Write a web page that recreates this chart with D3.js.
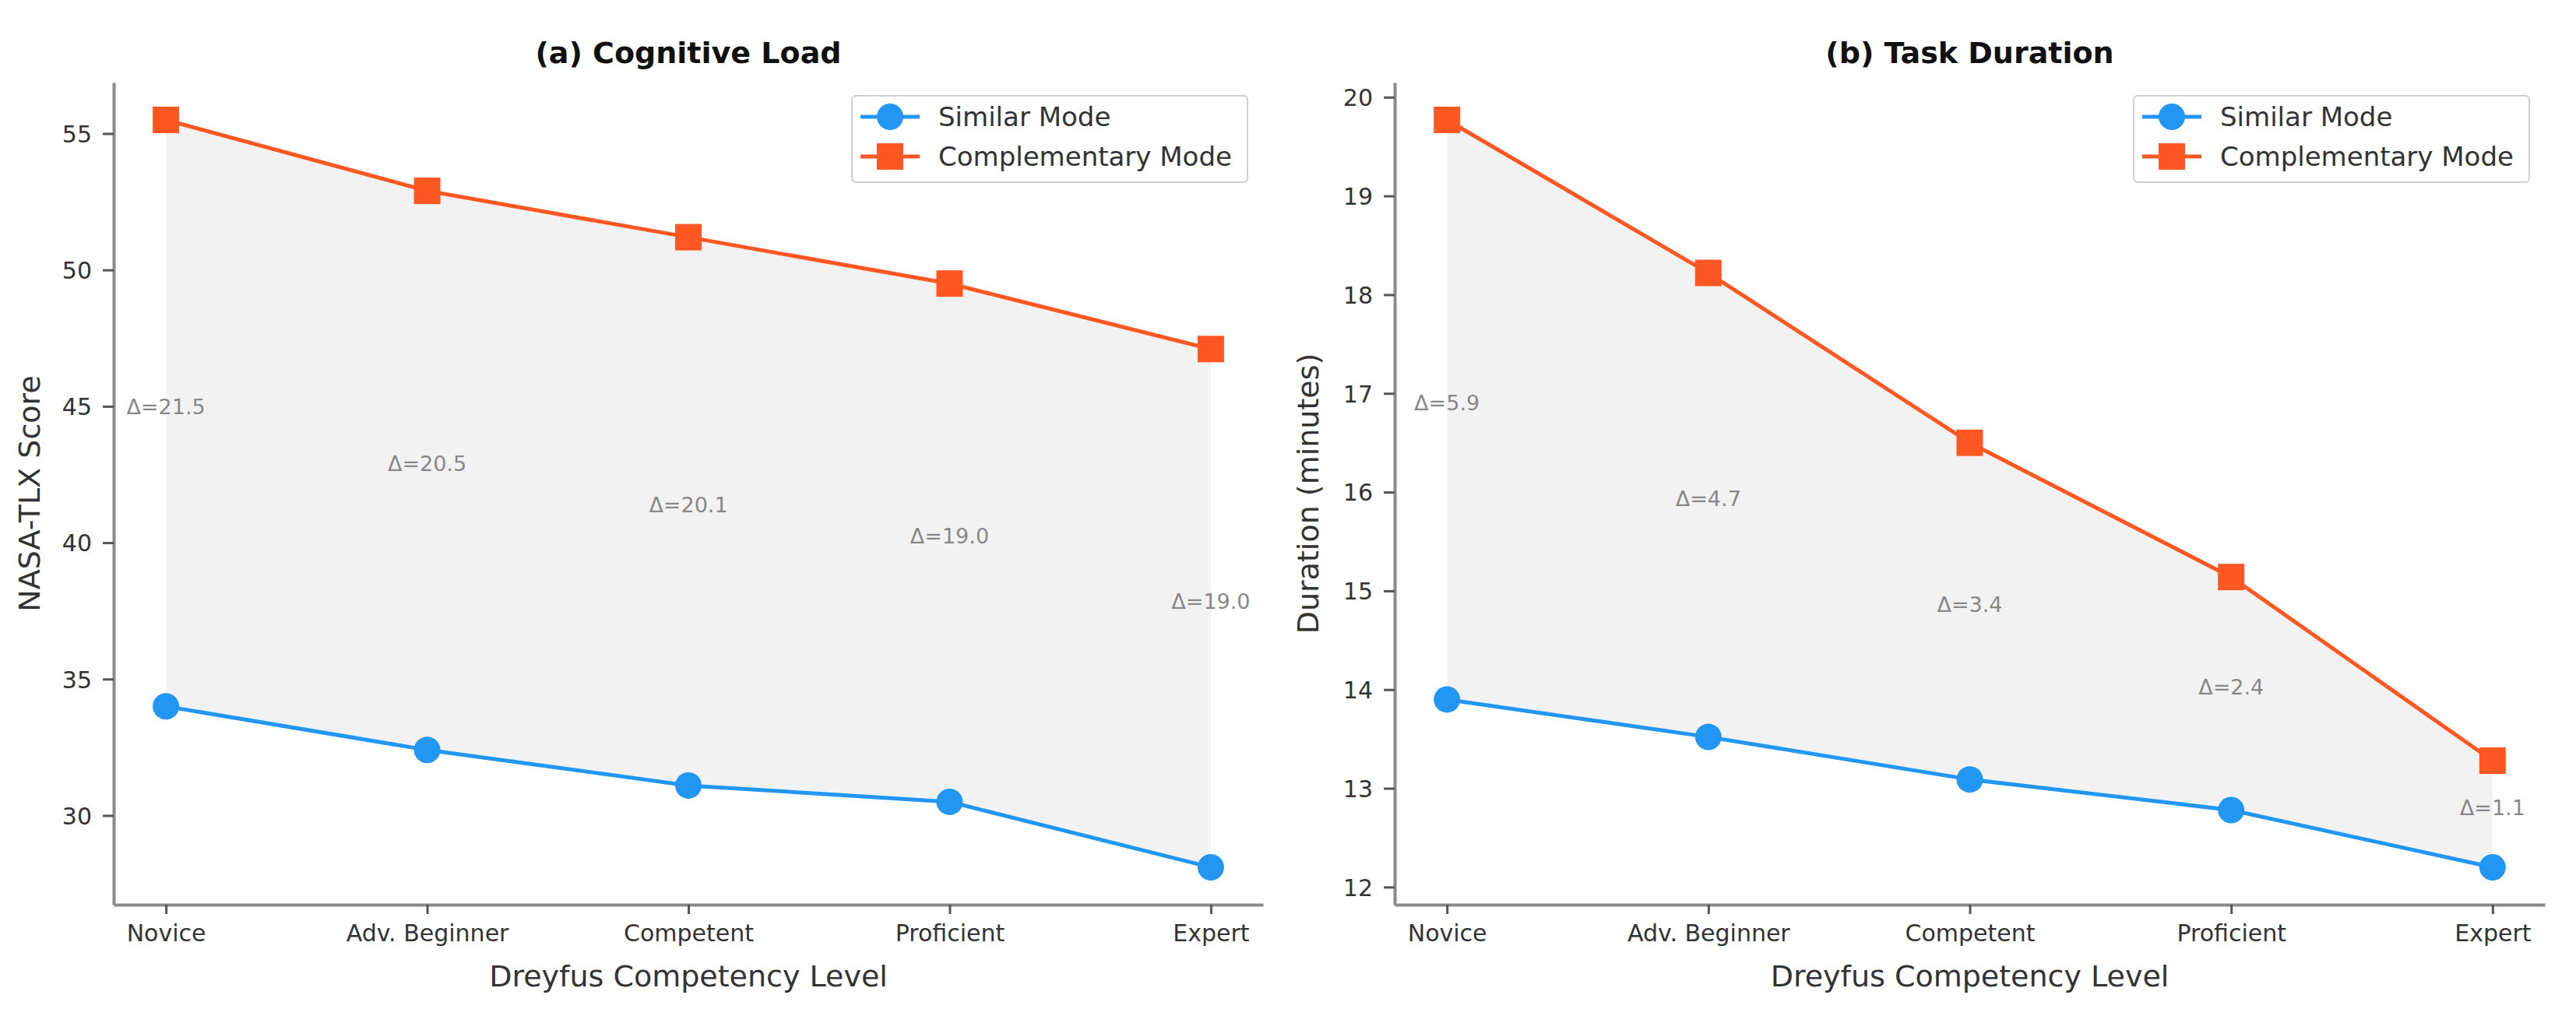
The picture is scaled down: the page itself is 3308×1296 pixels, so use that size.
<!DOCTYPE html>
<html>
<head>
<meta charset="utf-8">
<script src="https://cdn.jsdelivr.net/npm/d3@7/dist/d3.min.js"></script>
<style>
  html, body { margin: 0; padding: 0; background: #fff; }
  svg { display: block; font-family: "DejaVu Sans", sans-serif; }
</style>
</head>
<body>
<svg id="chart" width="3308" height="1296"></svg>
<script>
// ---- data ----
const levels = ["Novice", "Adv. Beginner", "Competent", "Proficient", "Expert"];
const loadSimilar = [34.0, 32.4, 31.1, 30.5, 28.1];
const loadComplementary = [55.5, 52.9, 51.2, 49.5, 47.1];
const durationSimilar = [13.9, 13.52, 13.09, 12.78, 12.2];
const durationComplementary = [19.77, 18.22, 16.5, 15.14, 13.28];
const loadTicks = [30, 35, 40, 45, 50, 55];
const durationTicks = [12, 13, 14, 15, 16, 17, 18, 19, 20];
const seriesNames = ["Similar Mode", "Complementary Mode"];

const COLORS = { similar: "#2196F3", comp: "#FF5722" };

const svg = d3.select("#chart");

const panels = [
  { title: "(a) Cognitive Load", ylabel: "NASA-TLX Score", sim: loadSimilar, comp: loadComplementary,
    ticks: loadTicks, x0: 146, x1: 1622, ylabX: 51 },
  { title: "(b) Task Duration", ylabel: "Duration (minutes)", sim: durationSimilar, comp: durationComplementary,
    ticks: durationTicks, x0: 1791, x1: 3268, ylabX: 1693 }
];
const Y0 = 106, Y1 = 1162;

panels.forEach(p => {
  const g = svg.append("g");
  const x = d3.scaleLinear().domain([-0.2, levels.length - 1 + 0.2]).range([p.x0, p.x1]);
  const all = p.sim.concat(p.comp);
  const mn = d3.min(all), mx = d3.max(all), r = mx - mn;
  const y = d3.scaleLinear().domain([mn - 0.05 * r, mx + 0.05 * r]).range([Y1, Y0]);

  const idx = levels.map((_, i) => i);

  // fill between
  const area = d3.area().x(i => x(i)).y0(i => y(p.sim[i])).y1(i => y(p.comp[i]));
  g.append("path").datum(idx).attr("d", area).attr("fill", "#808080").attr("fill-opacity", 0.1);

  // delta annotations
  g.selectAll("text.delta").data(idx).enter().append("text")
    .attr("class", "delta")
    .attr("x", i => x(i))
    .attr("y", i => y((p.sim[i] + p.comp[i]) / 2) + 1)
    .attr("text-anchor", "middle")
    .attr("font-size", 27)
    .attr("fill", "#888")
    .text(i => "Δ=" + (p.comp[i] - p.sim[i]).toFixed(1));

  // lines
  const line = arr => d3.line().x(i => x(i)).y(i => y(arr[i]));
  g.append("path").datum(idx).attr("d", line(p.sim)).attr("fill", "none")
    .attr("stroke", COLORS.similar).attr("stroke-width", 5);
  g.append("path").datum(idx).attr("d", line(p.comp)).attr("fill", "none")
    .attr("stroke", COLORS.comp).attr("stroke-width", 5);

  // markers
  g.selectAll("circle.sim").data(idx).enter().append("circle")
    .attr("cx", i => x(i)).attr("cy", i => y(p.sim[i])).attr("r", 17)
    .attr("fill", COLORS.similar);
  const sq = 34;
  g.selectAll("rect.comp").data(idx).enter().append("rect")
    .attr("x", i => x(i) - sq / 2).attr("y", i => y(p.comp[i]) - sq / 2)
    .attr("width", sq).attr("height", sq).attr("fill", COLORS.comp);

  // axes
  const yAxis = d3.axisLeft(y).tickValues(p.ticks).tickFormat(d3.format("d"))
    .tickSize(14).tickSizeOuter(0).tickPadding(14);
  const ya = g.append("g").attr("transform", `translate(${p.x0},0)`).call(yAxis);
  const xAxis = d3.axisBottom(x).tickValues(idx).tickFormat(i => levels[i])
    .tickSize(12).tickSizeOuter(0).tickPadding(14);
  const xa = g.append("g").attr("transform", `translate(0,${Y1})`).call(xAxis);
  [ya, xa].forEach(a => {
    a.select(".domain").attr("stroke", "#8a8a8a").attr("stroke-width", 4);
    a.selectAll(".tick line").attr("stroke", "#555").attr("stroke-width", 3);
    a.selectAll(".tick text").attr("font-size", 30).attr("fill", "#333")
      .attr("font-family", "DejaVu Sans, sans-serif");
  });
  ya.selectAll(".tick text").attr("dy", "0.36em");
  xa.selectAll(".tick text").attr("dy", "0.71em");

  // titles and labels
  const cx = (p.x0 + p.x1) / 2;
  g.append("text").attr("x", cx).attr("y", 81).attr("text-anchor", "middle")
    .attr("font-size", 38).attr("font-weight", "bold").attr("fill", "#111").text(p.title);
  g.append("text").attr("x", cx).attr("y", 1267).attr("text-anchor", "middle")
    .attr("font-size", 38).attr("fill", "#333").text("Dreyfus Competency Level");
  g.append("text").attr("transform", `translate(${p.ylabX},${(Y0 + Y1) / 2}) rotate(-90)`)
    .attr("text-anchor", "middle").attr("font-size", 38).attr("fill", "#333").text(p.ylabel);

  // legend
  const lw = 508, lh = 111;
  const lx = p.x1 - 20 - lw, ly = 123;
  const lg = g.append("g").attr("transform", `translate(${lx},${ly})`);
  lg.append("rect").attr("width", lw).attr("height", lh).attr("rx", 5)
    .attr("fill", "#fff").attr("fill-opacity", 0.85).attr("stroke", "#d0d0d0").attr("stroke-width", 2);
  seriesNames.forEach((name, k) => {
    const ry = 27 + k * 51;
    const col = k === 0 ? COLORS.similar : COLORS.comp;
    lg.append("line").attr("x1", 11).attr("x2", 87).attr("y1", ry).attr("y2", ry)
      .attr("stroke", col).attr("stroke-width", 5);
    if (k === 0) {
      lg.append("circle").attr("cx", 49).attr("cy", ry).attr("r", 17).attr("fill", col);
    } else {
      lg.append("rect").attr("x", 49 - 17).attr("y", ry - 17).attr("width", 34).attr("height", 34).attr("fill", col);
    }
    lg.append("text").attr("x", 111).attr("y", ry).attr("dy", "0.36em")
      .attr("font-size", 34).attr("fill", "#333").text(name);
  });
});
</script>
</body>
</html>
